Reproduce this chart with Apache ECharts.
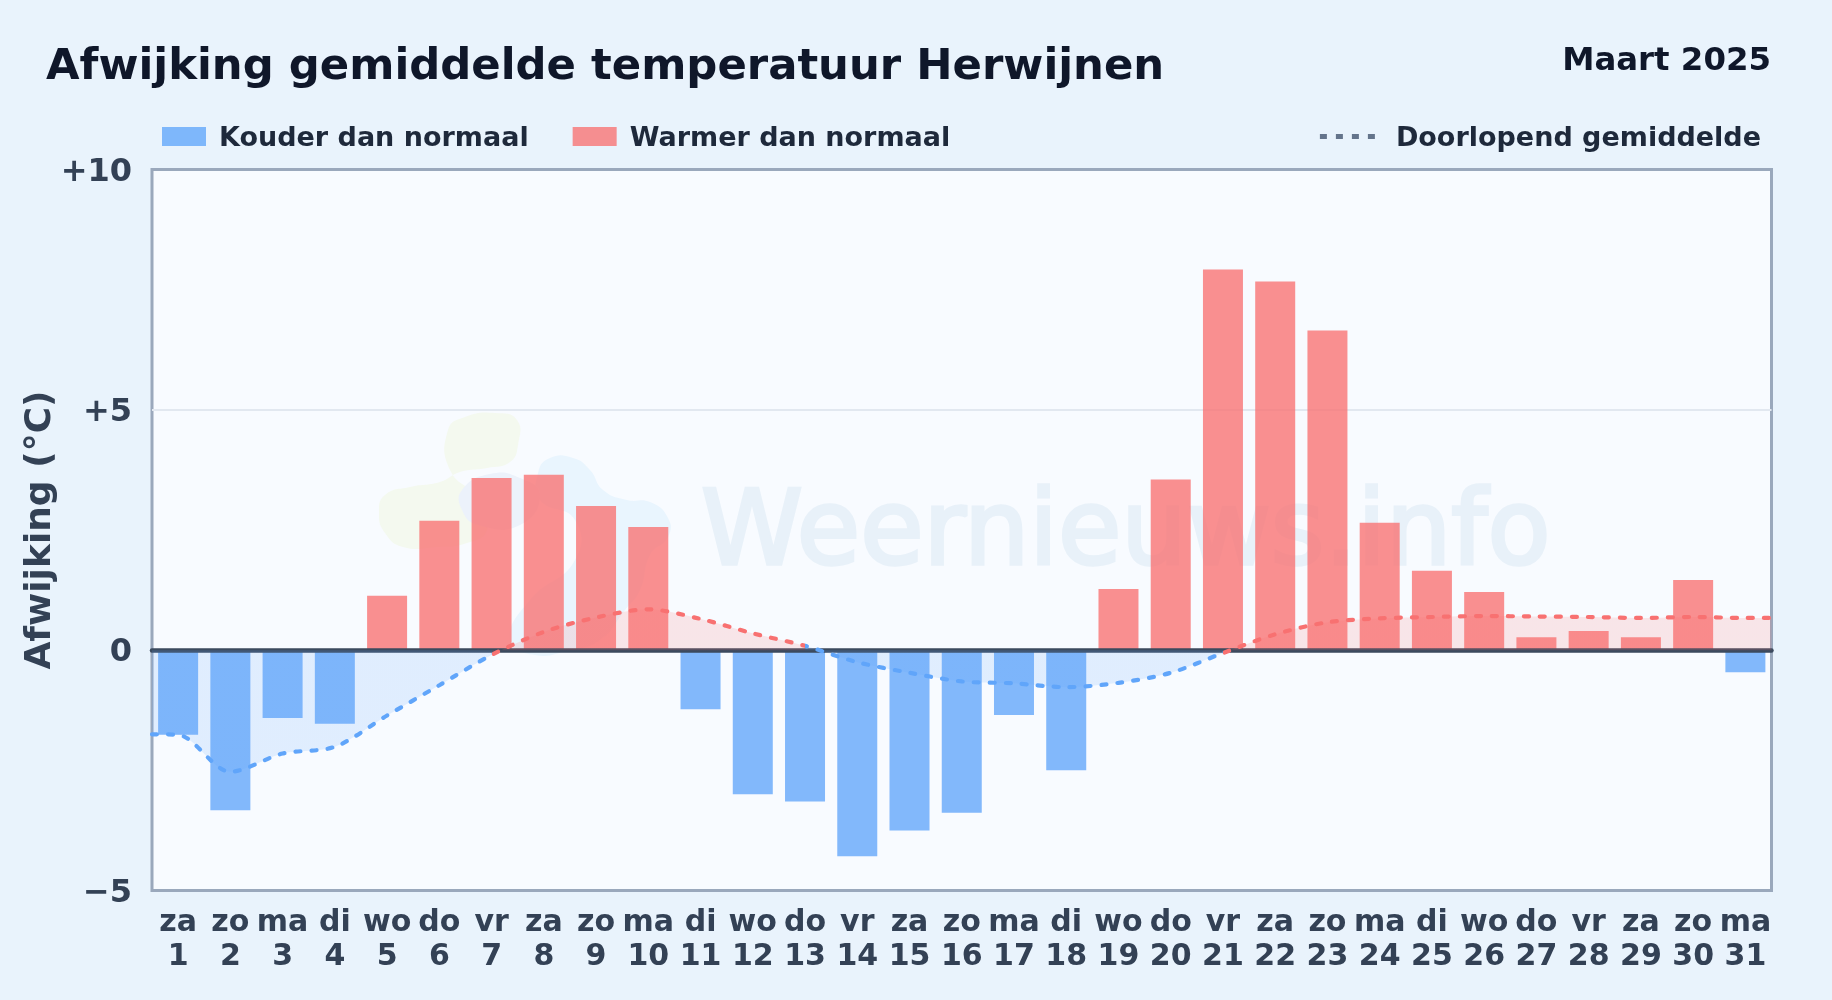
<!DOCTYPE html>
<html><head><meta charset="utf-8">
<script src="https://cdn.jsdelivr.net/npm/echarts@6/dist/echarts.min.js"></script>
<style>html,body{margin:0;padding:0;background:#e9f3fc}#c{width:1832px;height:1000px}</style>
</head><body><div id="c"></div>
<script>
const weekdays = ['za','zo','ma','di','wo','do','vr','za','zo','ma','di','wo','do','vr','za','zo','ma','di','wo','do','vr','za','zo','ma','di','wo','do','vr','za','zo','ma'];
const days = [1,2,3,4,5,6,7,8,9,10,11,12,13,14,15,16,17,18,19,20,21,22,23,24,25,26,27,28,29,30,31];
const anomalies = [-1.76,-3.33,-1.41,-1.53,1.13,2.69,3.58,3.65,3.0,2.56,-1.23,-3.0,-3.15,-4.29,-3.75,-3.38,-1.35,-2.5,1.27,3.55,7.92,7.67,6.65,2.65,1.65,1.21,0.27,0.40,0.27,1.46,-0.46];
const meanX = [0.5,1,2,3,4,5,6,7,8,9,10,11,12,13,14,15,16,17,18,19,20,21,22,23,24,25,26,27,28,29,30,31,31.5];
const meanY = [-1.75,-1.76,-2.53,-2.15,-2.01,-1.36,-0.73,-0.1,0.38,0.68,0.85,0.65,0.35,0.09,-0.25,-0.47,-0.65,-0.69,-0.77,-0.68,-0.47,-0.06,0.33,0.58,0.66,0.69,0.71,0.70,0.69,0.67,0.69,0.67,0.67];
const yTicks = {min:-5,max:10,interval:5};

const BLUE='#60a5fa', RED='#f87171', FONT='"DejaVu Sans", sans-serif';
const cats = weekdays.map((w,i)=>w+'\n'+days[i]);
const cold = anomalies.map(v=>v<0?v:null);
const warm = anomalies.map(v=>v>=0?v:null);
const pieces=[];
for(let i=0;i<meanX.length-1;i++){
  const color = meanY[i+1]>=0?RED:BLUE;
  const last = pieces[pieces.length-1];
  if(last && last.color===color){ last.lt = meanX[i+1]; }
  else pieces.push({gte:meanX[i],lt:meanX[i+1],color});
}
pieces[pieces.length-1].lt = 32; pieces[0].gte = 0;

const chart = echarts.init(document.getElementById('c'),null,{renderer:'canvas'});
const blob=(pts,fill)=>({type:'polygon',z:1,silent:true,shape:{points:pts,smooth:0.5},style:{fill}});
const legendText = pad=>({fontFamily:FONT,fontWeight:'bold',fontSize:27,color:'#1e293b',padding:pad});
chart.setOption({
  backgroundColor:'#e9f3fc',
  animation:false,
  title:[
    {text:'Afwijking gemiddelde temperatuur Herwijnen',left:41,top:41,textStyle:{fontFamily:FONT,fontWeight:'bold',fontSize:43.35,color:'#0f172a'}},
    {text:'Maart 2025',right:56,top:41,textStyle:{fontFamily:FONT,fontWeight:'bold',fontSize:32.4,color:'#0f172a'}}
  ],
  legend:[
    {left:157,top:120,itemWidth:44,itemHeight:19,itemGap:44,icon:'rect',
     formatter:n=>'{a|'+n+'}',textStyle:{rich:{a:legendText([4,0,0,8])}},
     data:['Kouder dan normaal','Warmer dan normaal']},
    {right:66,top:120,itemWidth:56,itemHeight:19,
     formatter:n=>'{a|'+n+'}',textStyle:{rich:{a:legendText([4,0,0,15])}},
     data:[{name:'Doorlopend gemiddelde',lineStyle:{color:'#64748b',type:[7,9],width:5,cap:'butt'},itemStyle:{opacity:0}}]}
  ],
  grid:{left:152,top:169.5,width:1619.5,height:721,show:true,backgroundColor:'#f8fbff',borderColor:'#9aa8bc',borderWidth:3},
  xAxis:[
    {type:'category',data:cats,position:'bottom',axisLine:{show:false,onZero:false},axisTick:{show:false},
     axisLabel:{interval:0,margin:16,fontFamily:FONT,fontWeight:'bold',fontSize:30,color:'#334155',lineHeight:34},splitLine:{show:false}},
    {type:'value',min:0.5,max:31.5,position:'bottom',z:10,
     axisLine:{show:true,onZero:true,lineStyle:{color:'#3b4a5e',width:4.5}},axisTick:{show:false},axisLabel:{show:false},splitLine:{show:false}}
  ],
  yAxis:{type:'value',min:yTicks.min,max:yTicks.max,interval:yTicks.interval,
    name:'Afwijking (°C)',nameLocation:'middle',nameGap:93,nameMoveOverlap:false,
    nameTextStyle:{fontFamily:FONT,fontWeight:'bold',fontSize:36,color:'#334155'},
    axisLine:{show:false},axisTick:{show:false},
    axisLabel:{margin:20,fontFamily:FONT,fontWeight:'bold',fontSize:32,color:'#334155',
      formatter:v=>'{v|'+(v>0?'+'+v:(v<0?'\u2212'+Math.abs(v):'0'))+'}',
      rich:{v:{fontFamily:FONT,fontWeight:'bold',fontSize:32,color:'#334155',padding:[6,0,0,0]}}},
    splitLine:{show:true,showMinLine:false,showMaxLine:false,lineStyle:{color:'#e2e8f0',width:2}}},
  visualMap:{show:false,type:'piecewise',seriesIndex:2,dimension:0,pieces},
  series:[
    {name:'Kouder dan normaal',type:'bar',xAxisIndex:0,data:cold,barWidth:40,barGap:'-100%',itemStyle:{color:'rgba(96,165,250,0.78)'}},
    {name:'Warmer dan normaal',type:'bar',xAxisIndex:0,data:warm,barWidth:40,barGap:'-100%',itemStyle:{color:'rgba(248,113,113,0.78)'}},
    {name:'Doorlopend gemiddelde',type:'line',xAxisIndex:1,z:20,data:meanX.map((x,i)=>[x,meanY[i]]),smooth:0.3,symbol:'none',
     lineStyle:{width:4.2,type:[5,11],cap:'round'},areaStyle:{opacity:0.16}}
  ],
  graphic:[
    blob([[448,430],[465,417],[495,413],[517,420],[518,445],[510,462],[487,468],[460,472],[440,482],[410,487],[385,495],[379,513],[385,533],[403,547],[437,547],[467,543],[487,530],[480,500],[450,470]],'#f4f9ef'),
    blob([[538,473],[550,458],[573,458],[590,470],[603,490],[627,500],[650,502],[668,518],[668,537],[650,555],[640,590],[625,610],[600,640],[570,650],[535,655],[510,640],[530,600],[575,560],[575,520],[540,500]],'#e9f5fe'),
    blob([[462,490],[490,474],[520,478],[540,495],[520,525],[478,525],[462,510]],'#ecf2fb'),
    {type:'text',z:1,silent:true,x:701,y:537,style:{text:'Weernieuws.info',fontFamily:'"DejaVu Sans", sans-serif',fontSize:103,fontWeight:'normal',fill:'#e8f1f9',stroke:'#e8f1f9',lineWidth:3.5,textVerticalAlign:'middle'}}
  ]
});
</script></body></html>
